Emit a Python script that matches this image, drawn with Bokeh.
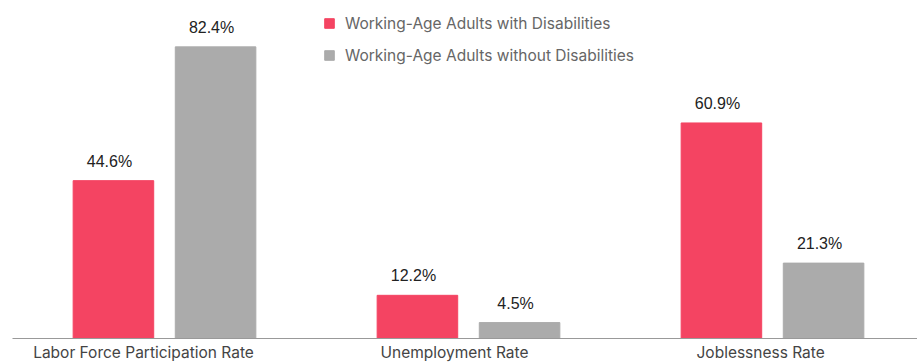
from bokeh.plotting import figure
from bokeh.models import ColumnDataSource, Legend, LegendItem, Range1d, LabelSet, FixedTicker
from bokeh.core.properties import value
from bokeh.embed import file_html
from bokeh.resources import INLINE

categories = ["Labor Force Participation Rate", "Unemployment Rate", "Joblessness Rate"]
with_disab = [44.6, 12.2, 60.9]
without_disab = [82.4, 4.5, 21.3]
series_names = ["Working-Age Adults with Disabilities", "Working-Age Adults without Disabilities"]

PINK = "#F44462"
GRAY = "#ABABAB"
OFF = 0.168
BW = 0.265
LABEL_SHIFT = [-0.069, -0.046, -0.039]

xs = list(range(len(categories)))
src1 = ColumnDataSource(dict(x=[i - OFF for i in xs], top=with_disab,
                             lab=[f"{v:.1f}%" for v in with_disab]))
src2 = ColumnDataSource(dict(x=[i + OFF for i in xs], top=without_disab,
                             lab=[f"{v:.1f}%" for v in without_disab]))

p = figure(width=917, height=364, output_backend="svg", toolbar_location=None,
           x_range=Range1d(-0.5, 2.477), y_range=Range1d(0, 95.5),
           min_border_left=12, min_border_right=0, min_border_top=0, min_border_bottom=26)
p.outline_line_color = None
p.grid.visible = False
p.yaxis.visible = False
p.background_fill_color = "white"
p.border_fill_color = "white"

r1 = p.vbar(x="x", top="top", width=BW, source=src1, color=PINK)
r2 = p.vbar(x="x", top="top", width=BW, source=src2, color=GRAY)

for s in (src1, src2):
    p.add_layout(LabelSet(x="x", y="top", text="lab", source=s, text_align="center",
                          text_baseline="bottom", x_offset=-4, y_offset=11,
                          text_font=value("Liberation Sans"),
                          text_font_size=value("16px"), text_color="#222222"))

ticks = [i + d for i, d in zip(xs, LABEL_SHIFT)]
ax = p.xaxis[0]
ax.ticker = FixedTicker(ticks=ticks)
ax.major_label_overrides = {t: c for t, c in zip(ticks, categories)}
ax.major_tick_line_color = None
ax.major_tick_out = 0
ax.major_tick_in = 0
ax.minor_tick_line_color = None
ax.minor_tick_out = 0
ax.axis_line_color = "#999999"
ax.major_label_text_font = "Inter"
ax.major_label_text_font_size = "15.5px"
ax.major_label_text_color = "#444444"
ax.major_label_standoff = 4

legend = Legend(items=[LegendItem(label=series_names[0], renderers=[r1]),
                       LegendItem(label=series_names[1], renderers=[r2])],
                location=(311, 273), orientation="vertical",
                glyph_width=12, glyph_height=12, label_height=20, spacing=12,
                label_standoff=10, padding=0, margin=0,
                label_text_font="Inter", label_text_font_size="15.5px",
                label_text_color="#666666", background_fill_alpha=0,
                border_line_color=None)
p.add_layout(legend)

open("out.html", "w").write(file_html(p, INLINE))
